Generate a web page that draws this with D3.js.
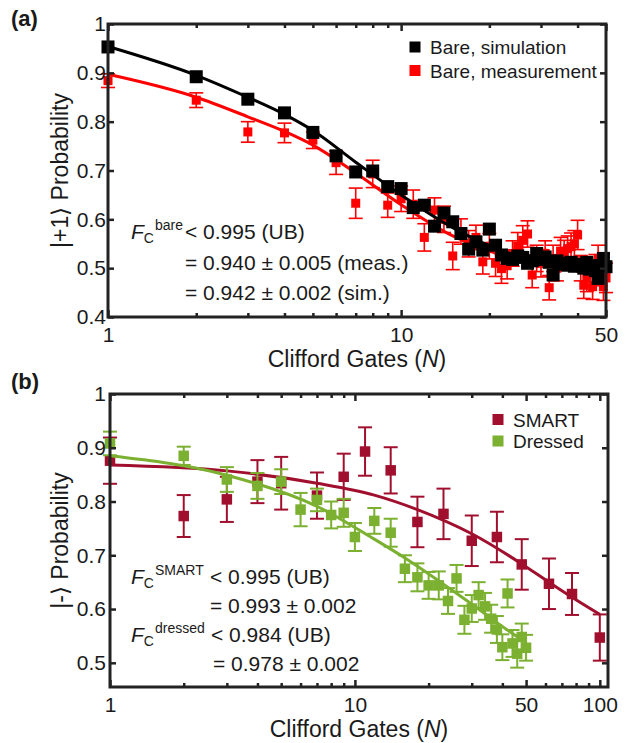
<!DOCTYPE html>
<html>
<head>
<meta charset="utf-8">
<script src="https://cdn.jsdelivr.net/npm/d3@7"></script>
<style>
  body { margin: 0; background: #fff; }
  svg text { font-family: "Liberation Sans", Arial, sans-serif; fill: #1a1a1a; }
</style>
</head>
<body>
<div id="chart"></div>
<script>
// ---- panel (a) : bare RB, N = 1..50 ----
var bareN = [1,2,3,4,5,6,7,8,9,10,11,12,13,14,15,16,17,18,19,20,21,22,23,24,25,
             26,27,28,29,30,31,32,33,34,35,36,37,38,39,40,41,42,43,44,45,46,47,48,49,50]
var simP = [0.953,0.892,0.846,0.818,0.778,0.730,0.697,0.699,0.667,0.663,0.624,0.629,0.586,0.613,0.595,
            0.571,0.539,0.554,0.537,0.580,0.547,0.527,0.520,0.518,0.525,0.522,0.510,0.515,0.530,0.518,
            0.523,0.512,0.486,0.515,0.510,0.508,0.506,0.512,0.504,0.505,0.508,0.500,0.512,0.498,0.505,
            0.495,0.479,0.505,0.520,0.503]
var measP = [0.884,0.844,0.779,0.777,0.762,0.716,0.633,0.693,0.629,0.642,0.631,0.563,0.619,0.600,0.525,
             0.575,0.550,0.563,0.513,0.545,0.510,0.499,0.505,0.530,0.545,0.557,0.570,0.486,0.520,0.510,
             0.530,0.460,0.520,0.500,0.535,0.530,0.540,0.544,0.550,0.568,0.500,0.465,0.480,0.490,0.462,
             0.500,0.520,0.490,0.462,0.480]
var measErr = [0.014,0.015,0.021,0.020,0.017,0.024,0.031,0.028,0.025,0.026,0.029,0.028,0.025,0.027,0.028,
               0.026,0.027,0.025,0.025,0.026,0.027,0.030,0.027,0.026,0.028,0.030,0.027,0.026,0.027,0.028,
               0.026,0.025,0.027,0.026,0.028,0.027,0.026,0.028,0.027,0.030,0.026,0.027,0.028,0.027,0.026,
               0.028,0.027,0.026,0.028,0.030]
// fit curves
var simFitN = [1,2,3,4,5,7,10,15,20,30,50]
var simFitP = [0.954,0.895,0.850,0.815,0.782,0.717,0.650,0.583,0.546,0.514,0.502]
var measFitN = [1,2,3,4,5,7,10,15,20,30,50]
var measFitP = [0.897,0.850,0.810,0.780,0.752,0.695,0.630,0.566,0.535,0.510,0.501]

// ---- panel (b) : SMART vs dressed ----
var smartN = [1,2,3,4,5,7,9,11,14,18,23,30,38,48,62,77,100]
var smartP = [0.876,0.773,0.804,0.837,0.834,0.811,0.846,0.893,0.858,0.762,0.777,0.727,0.734,0.683,0.647,0.628,0.547]
var smartErr = [0.043,0.039,0.042,0.040,0.049,0.043,0.043,0.045,0.043,0.047,0.047,0.047,0.047,0.047,0.047,0.039,0.043]
var dressedN = [1,2,3,4,5,6,7,8,9,10,12,14,16,18,20,22,24,26,28,30,32,34,36,38,40,42,44,46,48,50]
var dressedP = [0.908,0.885,0.841,0.829,0.837,0.785,0.803,0.775,0.779,0.734,0.764,0.742,0.675,0.659,0.644,
                0.644,0.615,0.657,0.580,0.601,0.626,0.605,0.582,0.562,0.529,0.629,0.536,0.517,0.548,0.528]
var dressedErr = [0.022,0.017,0.023,0.024,0.023,0.031,0.021,0.025,0.026,0.026,0.024,0.026,0.025,0.026,0.025,
                  0.026,0.024,0.025,0.026,0.025,0.024,0.025,0.026,0.025,0.024,0.026,0.025,0.026,0.025,0.024]
var smartFitN = [1,3,7,12,18,30,48,62,77,100]
var smartFitP = [0.868,0.857,0.834,0.812,0.785,0.740,0.684,0.650,0.622,0.590]
var dressedFitN = [1,3,7,12,16,30,48,50]
var dressedFitP = [0.885,0.849,0.791,0.730,0.695,0.609,0.543,0.538]

var yTicksA = [0.4,0.5,0.6,0.7,0.8,0.9,1]
var yTicksB = [0.5,0.6,0.7,0.8,0.9,1]

var W = 628, H = 743
var svg = d3.select("#chart").append("svg").attr("width", W).attr("height", H)

function zip(a, b, c) { return a.map(function(v, i){ return {n: v, p: b[i], e: c ? c[i] : 0} }) }

function drawPanel(cfg) {
  var g = svg.append("g")
  var x = d3.scaleLog().domain(cfg.xDomain).range([cfg.left, cfg.right])
  var y = d3.scaleLinear().domain(cfg.yDomain).range([cfg.bottom, cfg.top])

  //series, drawn in the given stacking order
  cfg.drawOrder.forEach(function(k){
    var s = cfg.series[k]
    var pts = zip(s.n, s.p, s.e)
    if (s.e) {
      var eb = g.append("g").attr("stroke", s.color).attr("stroke-width", s.ebw).attr("fill", "none")
      pts.forEach(function(d){
        eb.append("line").attr("x1", x(d.n)).attr("x2", x(d.n)).attr("y1", y(d.p - d.e)).attr("y2", y(d.p + d.e))
        eb.append("line").attr("x1", x(d.n) - s.cap).attr("x2", x(d.n) + s.cap).attr("y1", y(d.p - d.e)).attr("y2", y(d.p - d.e))
        eb.append("line").attr("x1", x(d.n) - s.cap).attr("x2", x(d.n) + s.cap).attr("y1", y(d.p + d.e)).attr("y2", y(d.p + d.e))
      })
    }
    g.append("g").selectAll("rect").data(pts).enter().append("rect")
      .attr("x", function(d){ return x(d.n) - s.size/2 })
      .attr("y", function(d){ return y(d.p) - s.size/2 })
      .attr("width", s.size).attr("height", s.size)
      .attr("fill", s.color)
    var fit = s.fitN.map(function(v, i){ return [v, s.fitP[i]] })
    g.append("path").datum(fit)
      .attr("d", d3.line().x(function(d){ return x(d[0]) }).y(function(d){ return y(d[1]) }).curve(d3.curveMonotoneX))
      .attr("fill", "none").attr("stroke", s.color).attr("stroke-width", 3)
  })

  // axes (ticks pointing inward on all four sides)
  function fmtY(d){ return d === 1 ? "1" : d.toFixed(1) }
  var axes = [
    [d3.axisBottom(x).tickValues(cfg.xMajor).tickSize(-7).tickPadding(10).tickFormat(d3.format("d")), "translate(0," + cfg.bottom + ")"],
    [d3.axisBottom(x).tickValues(cfg.xMinor).tickSize(-4).tickFormat(""), "translate(0," + cfg.bottom + ")"],
    [d3.axisTop(x).tickValues(cfg.xMajor).tickSize(-7).tickFormat(""), "translate(0," + cfg.top + ")"],
    [d3.axisTop(x).tickValues(cfg.xMinor).tickSize(-4).tickFormat(""), "translate(0," + cfg.top + ")"],
    [d3.axisLeft(y).tickValues(cfg.yTicks).tickSize(-6).tickPadding(cfg.yPad).tickFormat(fmtY), "translate(" + cfg.left + ",0)"],
    [d3.axisRight(y).tickValues(cfg.yTicks).tickSize(-6).tickFormat(""), "translate(" + cfg.right + ",0)"]
  ]
  axes.forEach(function(a){
    var ax = g.append("g").attr("transform", a[1]).call(a[0])
    ax.select(".domain").remove()
    ax.selectAll(".tick line").attr("stroke", "#222").attr("stroke-width", 2.5)
    ax.selectAll("text").attr("font-size", "21px").attr("fill", "#1a1a1a")
  })

  g.append("rect").attr("x", cfg.left).attr("y", cfg.top)
    .attr("width", cfg.right - cfg.left).attr("height", cfg.bottom - cfg.top)
    .attr("fill", "none").attr("stroke", "#222").attr("stroke-width", 3)

  // x title
  var xt = g.append("text").attr("x", (cfg.left + cfg.right)/2).attr("y", cfg.xTitleY)
    .attr("text-anchor", "middle").attr("font-size", "23px")
  xt.append("tspan").text("Clifford Gates (")
  xt.append("tspan").attr("font-style", "italic").text("N")
  xt.append("tspan").text(")")

  // y title
  g.append("text").attr("transform", "translate(68," + (cfg.top + cfg.bottom)/2 + ") rotate(-90)")
    .attr("text-anchor", "middle").attr("font-size", "23px").text(cfg.yTitle)

  // panel letter
  g.append("text").attr("x", 11).attr("y", cfg.letterY).attr("font-size", "22px")
    .attr("font-weight", "bold").text(cfg.letter)

  // legend
  cfg.series.forEach(function(s, i){
    g.append("rect").attr("x", cfg.legX - 5.5).attr("y", cfg.legY + i*cfg.legDy - 5.5)
      .attr("width", 11).attr("height", 11).attr("fill", s.color)
    g.append("text").attr("x", cfg.legX + 15).attr("y", cfg.legY + i*cfg.legDy + 7)
      .attr("font-size", "19px").text(s.name)
  })

  // fidelity annotations
  cfg.notes.forEach(function(n){
    if (n.sup) {
      var t = g.append("text").attr("x", 131).attr("y", n.y).attr("font-size", "21px")
      t.append("tspan").attr("font-style", "italic").text("F")
      t.append("tspan").attr("font-size", "14px").attr("dy", 4).text("C")
      t.append("tspan").attr("font-size", "14px").attr("dx", 1).attr("dy", -13).text(n.sup)
    }
    g.append("text").attr("x", n.x).attr("y", n.y).attr("font-size", "21px").text(n.text)
  })
}

drawPanel({
  left: 108, right: 606, top: 24, bottom: 317,
  xDomain: [1, 50], yDomain: [0.4, 1],
  xMajor: [1, 10, 50], xMinor: [2,3,4,5,6,7,8,9,20,30,40],
  yTicks: yTicksA, yPad: 2,
  xTitleY: 367, yTitle: "|+1\u27E9 Probability",
  letter: "(a)", letterY: 26,
  legX: 415, legY: 47, legDy: 23.5,
  series: [
    {name: "Bare, simulation", n: bareN, p: simP, color: "#000", size: 13, fitN: simFitN, fitP: simFitP},
    {name: "Bare, measurement", n: bareN, p: measP, e: measErr, color: "#ff0000", size: 9, cap: 7, ebw: 1.6, fitN: measFitN, fitP: measFitP}
  ],
  drawOrder: [1, 0],
  notes: [
    {sup: "bare", x: 185, y: 239, text: "< 0.995 (UB)"},
    {x: 185, y: 270, text: "= 0.940 \u00B1 0.005 (meas.)"},
    {x: 185, y: 300, text: "= 0.942 \u00B1 0.002 (sim.)"}
  ]
})

drawPanel({
  left: 110, right: 608, top: 394, bottom: 687,
  xDomain: [1, 108], yDomain: [0.455, 1],
  xMajor: [1, 10, 50, 100], xMinor: [2,3,4,5,6,7,8,9,20,30,40,60,70,80,90],
  yTicks: yTicksB, yPad: 4,
  xTitleY: 737, yTitle: "|-\u27E9 Probability",
  letter: "(b)", letterY: 389,
  legX: 498, legY: 419.5, legDy: 21.5,
  series: [
    {name: "SMART", n: smartN, p: smartP, e: smartErr, color: "#a0102e", size: 10.5, cap: 7, ebw: 2, fitN: smartFitN, fitP: smartFitP},
    {name: "Dressed", n: dressedN, p: dressedP, e: dressedErr, color: "#7bb031", size: 10.5, cap: 7, ebw: 2, fitN: dressedFitN, fitP: dressedFitP}
  ],
  drawOrder: [0, 1],
  notes: [
    {sup: "SMART", x: 210, y: 584, text: "< 0.995 (UB)"},
    {x: 210, y: 613, text: "= 0.993 \u00B1 0.002"},
    {sup: "dressed", x: 211, y: 642, text: "< 0.984 (UB)"},
    {x: 213, y: 671, text: "= 0.978 \u00B1 0.002"}
  ]
})
</script>
</body>
</html>
